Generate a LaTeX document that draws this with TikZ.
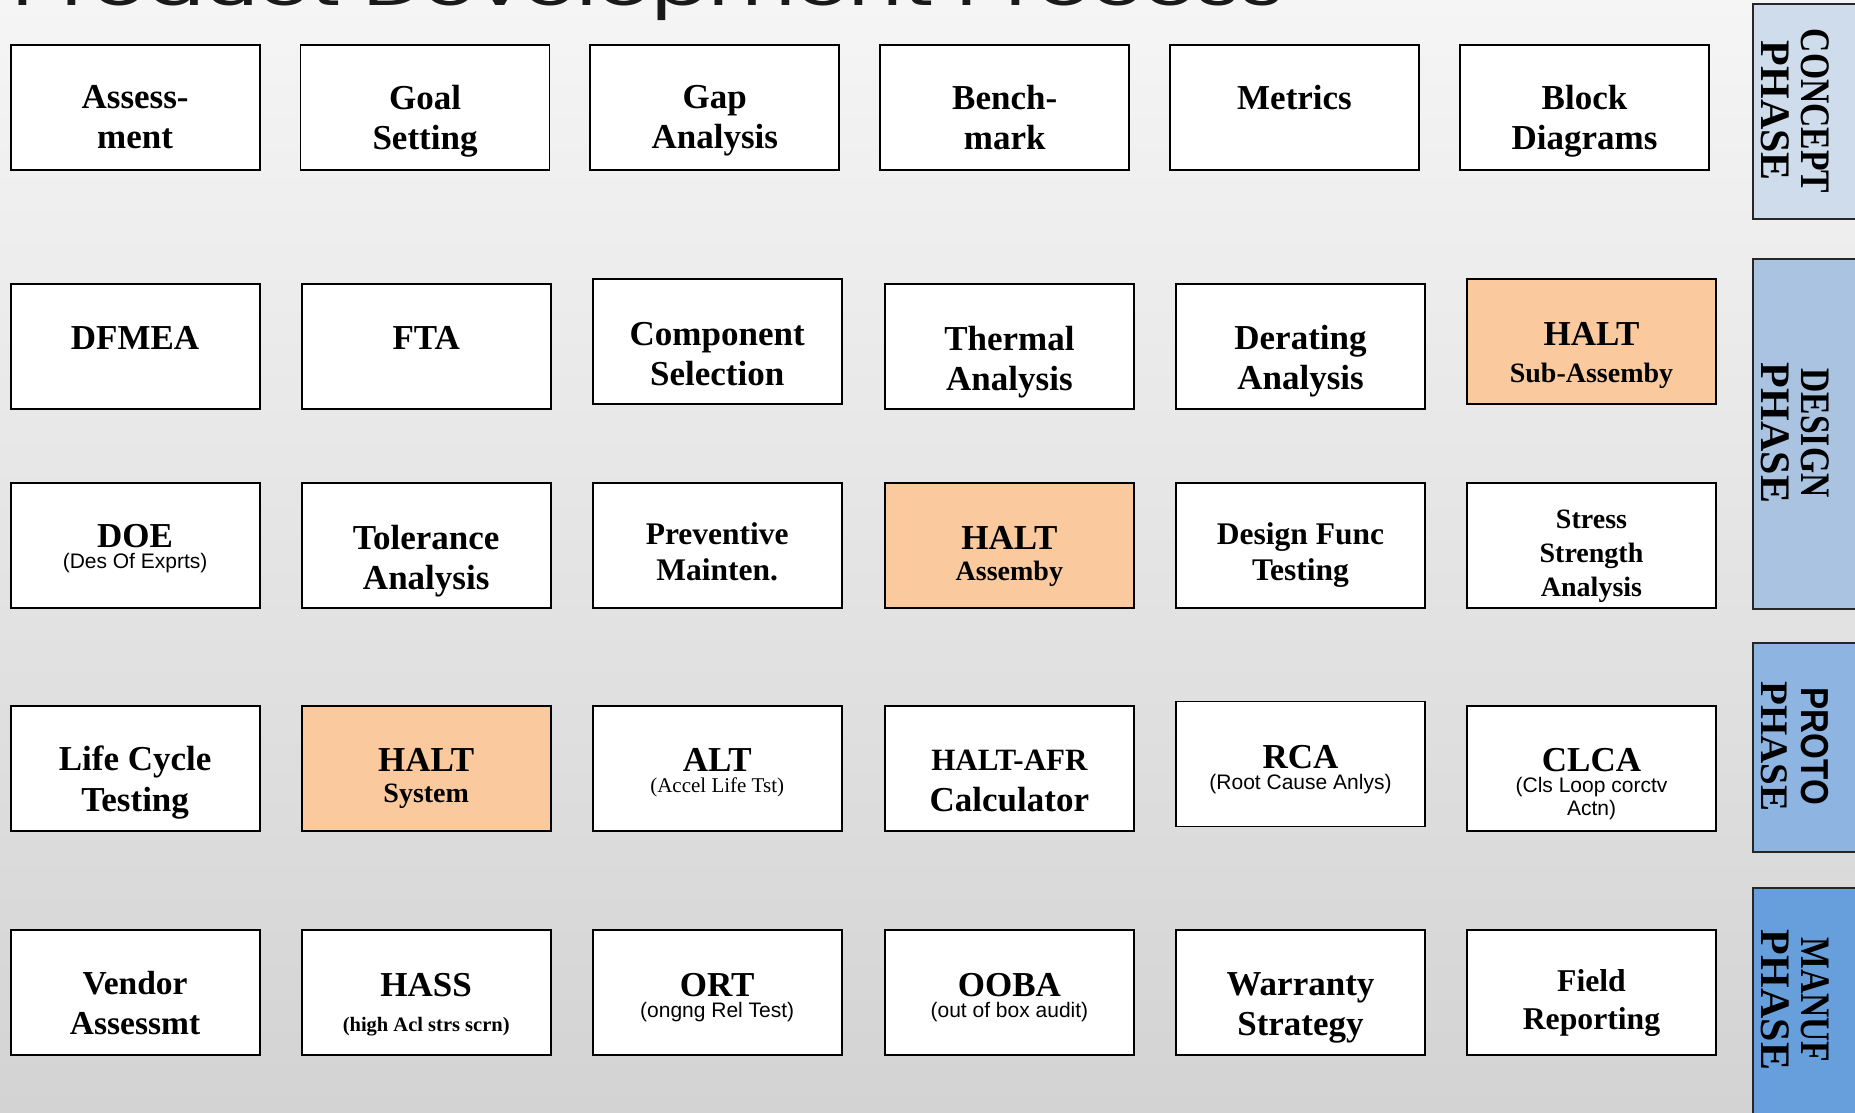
\documentclass[tikz,border=0pt]{standalone}
\usepackage{fontspec}
\setmainfont{Liberation Serif}
\newfontfamily\arialfont{Liberation Sans}
\newfontfamily\titlefont{Poppins}
\newfontfamily\phaseserif{Liberation Serif}[FakeStretch=0.8]
\newfontfamily\phasesans{Liberation Sans}[FakeStretch=0.85]
\usetikzlibrary{calc}

\definecolor{bgtop}{RGB}{245,245,245}
\definecolor{bgbot}{RGB}{211,211,211}
\definecolor{haltfill}{RGB}{250,202,158}
\definecolor{conceptfill}{RGB}{207,220,235}
\definecolor{designfill}{RGB}{169,195,225}
\definecolor{protofill}{RGB}{142,180,226}
\definecolor{manuffill}{RGB}{103,159,221}

\newcommand\fs[2]{\fontsize{#1}{#2}\selectfont}
\newcommand\subsans{\arialfont\mdseries\fs{21}{22}}
\newcommand\subserif{\mdseries\fs{21}{22}}

% one process step: [text style], box name, top-left x, y, box style, text drop, text
\newcommand\stepbox[7][]{%
  \node[procbox,#5] (#2) at (#3,#4) {};
  \node[steptext,#1] (#2t) at ($(#2.north)+(0,#6)$) {#7};}

\begin{document}
\begin{tikzpicture}[x=1pt,y=-1pt,
  procbox/.style={draw=black, line width=1.8pt, fill=white, anchor=north west,
    minimum width=249pt, minimum height=125pt, inner sep=0pt, outer sep=0pt},
  halt/.style={fill=haltfill},
  steptext/.style={align=center, anchor=north, inner sep=0pt, text=black,
    font=\bfseries\fs{35}{40}},
  size/.style 2 args={font=\bfseries\fs{#1}{#2}},
  phasebox/.style={draw=black!85, line width=1.8pt, anchor=north west,
    minimum width=140pt, inner sep=0pt},
  phasetext/.style={rotate=-90, align=center, inner sep=0pt, text=black,
    font=\bfseries\fs{42}{40}}]
\useasboundingbox (0,0) rectangle (1855,1113);
\clip (0,0) rectangle (1855,1113);
\shade[top color=bgtop, bottom color=bgbot] (0,0) rectangle (1855,1113);

% heading, running off the top edge
\node[anchor=base west, inner sep=0pt, text=black!90] (title) at (12,6)
  {\resizebox{1272pt}{43pt}{\titlefont Product Development Process}};

% concept row
\stepbox{b11}{10.6}{45}{}{40}{Assess-\\ment}
\stepbox{b12}{300.5}{45}{}{40}{Goal\\Setting}
\stepbox{b13}{590.3}{45}{}{40}{Gap\\Analysis}
\stepbox{b14}{880.2}{45}{}{40}{Bench-\\mark}
\stepbox{b15}{1170}{45}{}{40}{Metrics}
\stepbox{b16}{1460}{45}{}{40}{Block\\Diagrams}

% design rows
\stepbox{b21}{10.6}{284}{}{42}{DFMEA}
\stepbox{b22}{301.7}{284}{}{42}{FTA}
\stepbox{b23}{592.7}{279}{}{43}{Component\\Selection}
\stepbox{b24}{884.9}{284}{}{42}{Thermal\\Analysis}
\stepbox{b25}{1176}{284}{}{41.5}{Derating\\Analysis}
\stepbox{b26}{1467}{279}{halt}{43}{HALT\\[-3pt]{\fs{28}{30}Sub-Assemby}}

\stepbox{b31}{10.6}{483}{}{41.5}{DOE\\[-19pt]{\subsans (Des Of Exprts)}}
\stepbox{b32}{301.7}{483}{}{42}{Tolerance\\Analysis}
\stepbox[size={31.5}{36}]{b33}{592.7}{483}{}{39}{Preventive\\Mainten.}
\stepbox{b34}{884.9}{483}{halt}{43}{HALT\\[-9pt]{\fs{28}{30}Assemby}}
\stepbox[size={31.5}{36}]{b35}{1176}{483}{}{39}{Design Func\\Testing}
\stepbox[size={28}{34}]{b36}{1467}{483}{}{27}{Stress\\Strength\\Analysis}

% prototype row
\stepbox{b41}{10.6}{706}{}{40}{Life Cycle\\[1pt]Testing}
\stepbox{b42}{301.7}{706}{halt}{42}{HALT\\[-9pt]{\fs{28}{30}System}}
\stepbox{b43}{592.7}{706}{}{42}{ALT\\[-19pt]{\subserif (Accel Life Tst)}}
\stepbox{b44}{884.9}{706}{}{44}{{\fs{31}{37}HALT-AFR}\\[1pt]Calculator}
\stepbox{b45}{1176}{701.5}{}{43.5}{RCA\\[-19pt]{\subsans (Root Cause Anlys)}}
\stepbox{b46}{1467}{706}{}{42.5}{CLCA\\[-19pt]{\subsans (Cls Loop corctv}\\[-17pt]{\subsans Actn)}}

% manufacturing row
\stepbox[size={33.5}{40}]{b51}{10.6}{930}{}{41}{Vendor\\Assessmt}
\stepbox{b52}{301.7}{930}{}{43}{HASS\\[-5pt]{\fs{20.5}{22}(high Acl strs scrn)}}
\stepbox{b53}{592.7}{930}{}{43}{ORT\\[-19pt]{\subsans (ongng Rel Test)}}
\stepbox{b54}{884.9}{930}{}{43}{OOBA\\[-19pt]{\subsans (out of box audit)}}
\stepbox{b55}{1176}{930}{}{42}{Warranty\\Strategy}
\stepbox[size={31.7}{38}]{b56}{1467}{930}{}{39}{Field\\Reporting}

% phase tabs along the right edge
\node[phasebox, fill=conceptfill, minimum height=214.5pt] (concept) at (1752,3.5) {};
\node[phasetext] (concepttxt) at (1795,111) {\phaseserif CONCEPT\\PHASE};
\node[phasebox, fill=designfill, minimum height=350pt] (design) at (1752,258) {};
\node[phasetext] (designtxt) at (1795,433) {\phaseserif DESIGN\\PHASE};
\node[phasebox, fill=protofill, minimum height=209pt] (proto) at (1752,642) {};
\node[phasetext, font=\bfseries\fs{39}{40}] (prototxt) at (1795,746.5) {\phasesans PROTO\\PHASE};
\node[phasebox, fill=manuffill, minimum height=240pt] (manuf) at (1752,887) {};
\node[phasetext] (manuftxt) at (1795,1000) {\phaseserif MANUF\\PHASE};
\end{tikzpicture}
\end{document}
